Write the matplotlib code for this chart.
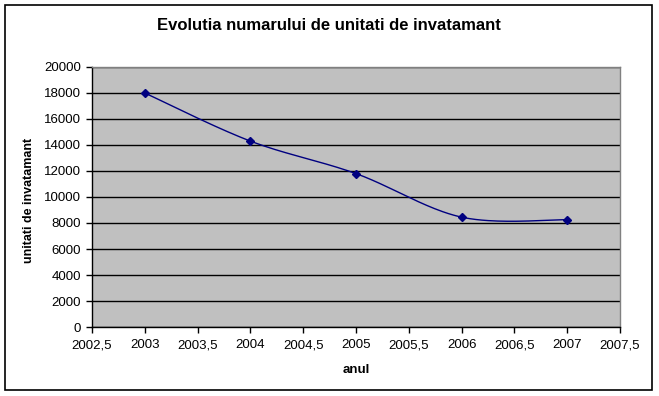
import numpy as np
import matplotlib
matplotlib.use("Agg")
import matplotlib.pyplot as plt
from matplotlib.patches import Rectangle

years = [2003, 2004, 2005, 2006, 2007]
values = [18000, 14300, 11800, 8450, 8250]
x_ticks = [2002.5, 2003, 2003.5, 2004, 2004.5, 2005, 2005.5, 2006, 2006.5, 2007, 2007.5]
x_tick_labels = ["2002,5", "2003", "2003,5", "2004", "2004,5", "2005", "2005,5", "2006", "2006,5", "2007", "2007,5"]
y_ticks = [0, 2000, 4000, 6000, 8000, 10000, 12000, 14000, 16000, 18000, 20000]

plt.rcParams['font.family'] = ['Liberation Sans', 'DejaVu Sans']

def smooth(xs, ys, n=40):
    # Excel-style Bezier smoothing (Catmull-Rom based control points)
    P = np.column_stack([xs, ys]).astype(float)
    out = []
    m = len(P)
    for i in range(m - 1):
        p0 = P[i - 1] if i > 0 else P[i]
        p1 = P[i]
        p2 = P[i + 1]
        p3 = P[i + 2] if i + 2 < m else P[i + 1]
        c1 = p1 + (p2 - p0) / 6.0
        c2 = p2 - (p3 - p1) / 6.0
        t = np.linspace(0, 1, n)[:, None]
        seg = ((1 - t) ** 3) * p1 + 3 * ((1 - t) ** 2) * t * c1 + 3 * (1 - t) * t ** 2 * c2 + t ** 3 * p2
        out.append(seg if i == 0 else seg[1:])
    s = np.vstack(out)
    return s[:, 0], s[:, 1]

W, H = 659, 396
fig = plt.figure(figsize=(W / 100, H / 100), dpi=100)
fig.patch.set_facecolor('white')
fig.patches.append(Rectangle((5 / W, 6 / H), 647 / W, 385 / H, transform=fig.transFigure,
                             fill=False, edgecolor='black', linewidth=1.2))

ax = fig.add_axes([92 / W, (H - 327) / H, 528 / W, 260 / H])
ax.set_facecolor('#C0C0C0')
ax.set_xlim(2002.5, 2007.5)
ax.set_ylim(0, 20000)

sx, sy = smooth(years, values)
ax.plot(sx, sy, color='#000080', linewidth=1.0, zorder=3)
ax.plot(years, values, linestyle='none', marker='D', markersize=4, color='#000080', zorder=4)

ax.set_yticks(y_ticks)
ax.set_yticklabels([str(v) for v in y_ticks], fontsize=9.5)
ax.set_xticks(x_ticks)
ax.set_xticklabels(x_tick_labels, fontsize=9.5)
ax.yaxis.grid(True, color='black', linewidth=1.0)
ax.set_axisbelow(True)
ax.tick_params(axis='y', direction='out', length=4, width=1, color='black', pad=4)
ax.tick_params(axis='x', direction='out', length=4, width=1, color='black', pad=5)

for side in ['top', 'right']:
    ax.spines[side].set_color('#808080')
    ax.spines[side].set_linewidth(1.0)
for side in ['left', 'bottom']:
    ax.spines[side].set_color('black')
    ax.spines[side].set_linewidth(1.0)

fig.text(356 / W, 1 - 370 / H, 'anul', ha='center', va='center', fontsize=9.5, fontweight='bold')
fig.text(29 / W, 1 - 200 / H, 'unitati de invatamant', ha='center', va='center',
         rotation=90, fontsize=9, fontweight='bold')

fig.text(329 / W, 1 - 26 / H, 'Evolutia numarului de unitati de invatamant',
         ha='center', va='center', fontsize=12, fontweight='bold')

fig.savefig('out.png', dpi=100)
